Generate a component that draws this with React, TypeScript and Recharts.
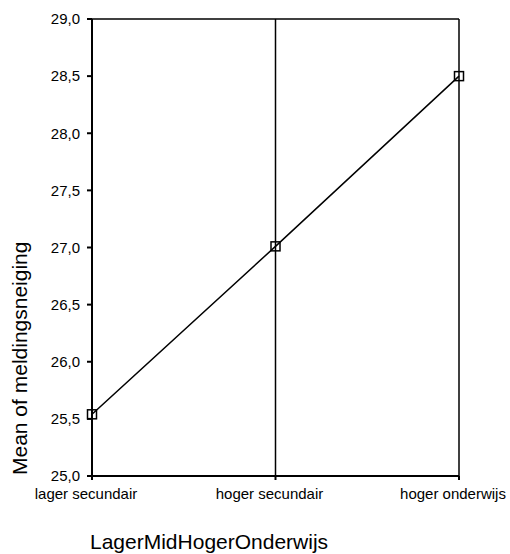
import { Label, Line, LineChart, ReferenceLine, XAxis, YAxis } from "recharts";

const categories = ["lager secundair", "hoger secundair", "hoger onderwijs"];
const meanValues = [25.54, 27.01, 28.5];
const yTicks = [25, 25.5, 26, 26.5, 27, 27.5, 28, 28.5, 29];

const data = categories.map((category, i) => ({ category, mean: meanValues[i] }));

const font = "'Liberation Sans', Arial, sans-serif";
const fmt = (v: number) => v.toFixed(1).replace(".", ",");

function SquareDot(props: any) {
  const { cx, cy, index } = props;
  return (
    <rect
      key={index}
      x={cx - 4.5}
      y={cy - 4.5}
      width={9}
      height={9}
      fill="none"
      stroke="#000"
      strokeWidth={1.5}
    />
  );
}

export default function App() {
  return (
    <div style={{ position: "absolute", left: 0, top: 0, width: 510, height: 554, background: "#fff" }}>
      <LineChart
        width={510}
        height={554}
        data={data}
        margin={{ top: 19, right: 51, left: 0, bottom: 48 }}
      >
        <XAxis
          dataKey="category"
          interval={0}
          height={30}
          stroke="#000"
          strokeWidth={2}
          tickSize={4}
          tickMargin={8}
          tick={{ fill: "#000", fontSize: 15, fontFamily: font, dx: -6 }}
        >
          <Label
            content={(p: any) => (
              <text
                x={p.viewBox.x - 2}
                y={p.viewBox.y + 73}
                fontSize={21}
                fontFamily={font}
                fill="#000"
              >
                LagerMidHogerOnderwijs
              </text>
            )}
          />
        </XAxis>
        <YAxis
          width={92}
          domain={[25, 29]}
          ticks={yTicks}
          tickFormatter={fmt}
          stroke="#000"
          strokeWidth={2}
          tickSize={5}
          tickMargin={7}
          tick={{ fill: "#000", fontSize: 15, fontFamily: font }}
        >
          <Label
            content={(p: any) => {
              const x = 27;
              const y = p.viewBox.y + p.viewBox.height - 1;
              return (
                <text
                  x={x}
                  y={y}
                  transform={`rotate(-90, ${x}, ${y})`}
                  fontSize={21}
                  fontFamily={font}
                  fill="#000"
                >
                  Mean of meldingsneiging
                </text>
              );
            }}
          />
        </YAxis>
        <ReferenceLine y={29} stroke="#000" strokeWidth={1.5} />
        <ReferenceLine x="hoger onderwijs" stroke="#000" strokeWidth={1.5} />
        <ReferenceLine x="hoger secundair" stroke="#000" strokeWidth={1.5} />
        <Line
          dataKey="mean"
          type="linear"
          stroke="#000"
          strokeWidth={1.5}
          dot={<SquareDot />}
          activeDot={false}
          isAnimationActive={false}
        />
      </LineChart>
    </div>
  );
}
